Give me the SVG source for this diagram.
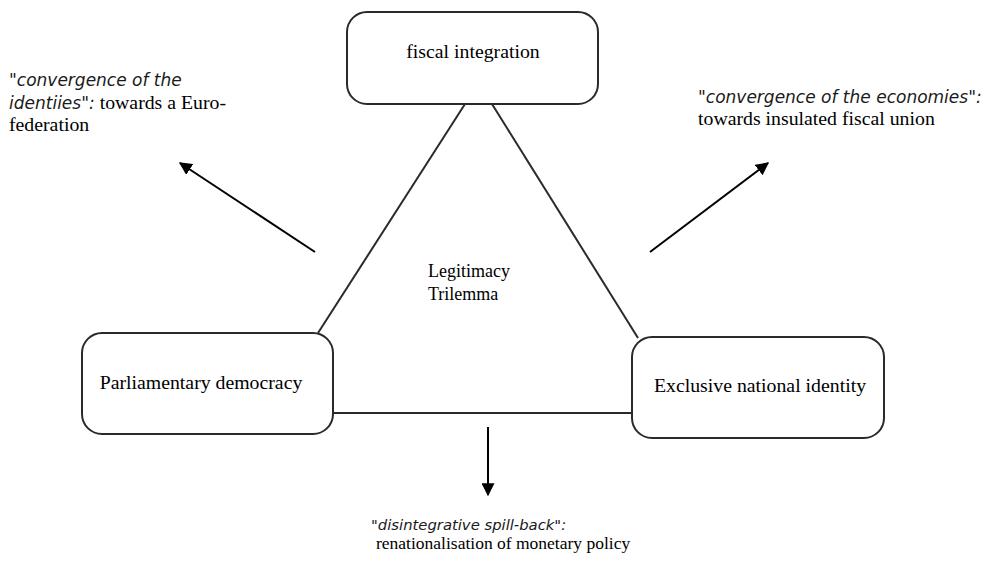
<svg xmlns="http://www.w3.org/2000/svg" width="982" height="562" viewBox="0 0 982 562">
<defs>
<style>
.box{fill:#fff;stroke:#2a2a2a;stroke-width:2}
.ln{stroke:#2a2a2a;stroke-width:2;fill:none}
.arr{stroke:#000;stroke-width:2;fill:none;marker-end:url(#ah)}
.t{font-family:"Liberation Serif","Times New Roman",serif;font-size:19.8px;fill:#000}
.it{font-family:"DejaVu Sans",Verdana,sans-serif;font-style:italic;font-size:17px;fill:#1a1a1a}
.tb{font-family:"Liberation Serif","Times New Roman",serif;font-size:17.5px;fill:#000}
.itb{font-family:"DejaVu Sans",Verdana,sans-serif;font-style:italic;font-size:14.8px;fill:#1a1a1a}
</style>
<marker id="ah" viewBox="0 0 10 10" refX="9" refY="5" markerWidth="6.5" markerHeight="6.5" markerUnits="strokeWidth" orient="auto">
<path d="M0,0 L10,5 L0,10 z" fill="#000"/>
</marker>
</defs>
<rect width="982" height="562" fill="#fff"/>
<g id="connectors">
<line class="ln" x1="465" y1="104" x2="318" y2="333"/>
<line class="ln" x1="492" y1="104" x2="638" y2="338"/>
<line class="ln" x1="333" y1="413" x2="632" y2="413"/>
<line class="arr" x1="315" y1="252" x2="180" y2="163"/>
<line class="arr" x1="650" y1="252" x2="768" y2="163"/>
<line class="arr" x1="488" y1="427" x2="488" y2="495"/>
</g>
<g id="fiscal">
<rect class="box" x="347" y="12" width="251" height="92" rx="20"/>
<text class="t" x="473" y="58" text-anchor="middle">fiscal integration</text>
</g>
<g id="parliament">
<rect class="box" x="82" y="333" width="251" height="101" rx="20"/>
<text class="t" x="201" y="389" text-anchor="middle">Parliamentary democracy</text>
</g>
<g id="national">
<rect class="box" x="632" y="337" width="252" height="101" rx="20"/>
<text class="t" x="760" y="392" text-anchor="middle">Exclusive national identity</text>
</g>
<g id="trilemma">
<text class="t" x="428" y="277" style="font-size:18px">Legitimacy</text>
<text class="t" x="428" y="300" style="font-size:18px">Trilemma</text>
</g>
<g id="label-left">
<text class="it" x="9" y="86">"convergence of the</text>
<text x="9" y="109"><tspan class="it">identiies":</tspan><tspan class="t"> towards a Euro-</tspan></text>
<text class="t" x="9" y="131">federation</text>
</g>
<g id="label-right">
<text class="it" x="698" y="103">"convergence of the economies":</text>
<text class="t" x="698" y="125">towards insulated fiscal union</text>
</g>
<g id="label-bottom">
<text class="itb" x="371" y="530">"disintegrative spill-back":</text>
<text class="tb" x="376" y="549">renationalisation of monetary policy</text>
</g>
</svg>
